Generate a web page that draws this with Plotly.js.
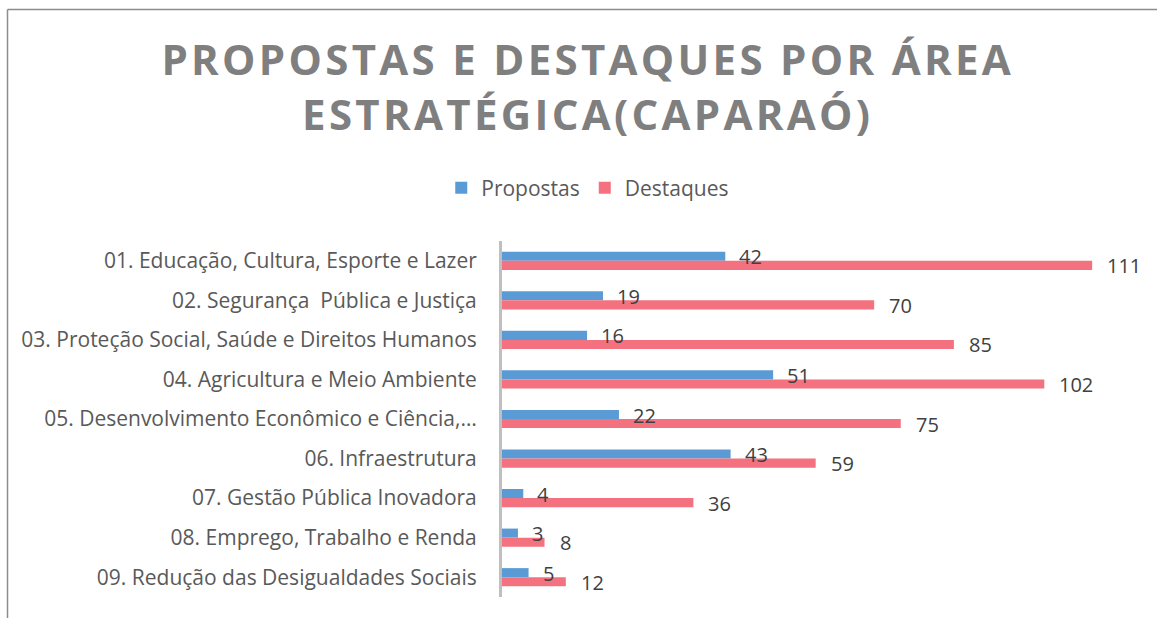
<!DOCTYPE html>
<html>
<head>
<meta charset="utf-8">
<script src="https://cdn.plot.ly/plotly-3.0.1.min.js"></script>
<style>
  html, body { margin: 0; padding: 0; background: #fff; }
  #chart { width: 1157px; height: 618px; }
  .gtitle { letter-spacing: 3.3px; }
</style>
</head>
<body>
<div id="chart"></div>
<script>
const categories = [
  "01. Educação, Cultura, Esporte e Lazer",
  "02. Segurança  Pública e Justiça",
  "03. Proteção Social, Saúde e Direitos Humanos",
  "04. Agricultura e Meio Ambiente",
  "05. Desenvolvimento Econômico e Ciência,…",
  "06. Infraestrutura",
  "07. Gestão Pública Inovadora",
  "08. Emprego, Trabalho e Renda",
  "09. Redução das Desigualdades Sociais"
];
const propostas = [42, 19, 16, 51, 22, 43, 4, 3, 5];
const destaques = [111, 70, 85, 102, 75, 59, 36, 8, 12];

const W = 1157, H = 618;
const M = {l: 502, r: 17, t: 241, b: 21, autoexpand: false};
const pw = W - M.l - M.r, ph = H - M.t - M.b;
const px = v => (v - M.l) / pw;
const py = v => 1 - (v - M.t) / ph;

const blue = '#5b9bd5', red = '#f4727f';

const traces = [
  {type: 'bar', orientation: 'h', name: 'Propostas', y: categories, x: propostas,
   marker: {color: blue}, hoverinfo: 'x'},
  {type: 'bar', orientation: 'h', name: 'Destaques', y: categories, x: destaques,
   marker: {color: red}, hoverinfo: 'x'}
];

const labelFont = {family: 'Open Sans, sans-serif', size: 20, color: '#404040'};
const annotations = [];
categories.forEach((c, i) => {
  annotations.push({x: propostas[i], y: c, xref: 'x', yref: 'y', text: String(propostas[i]),
    showarrow: false, xanchor: 'left', xshift: 12, yshift: 4, font: labelFont});
  annotations.push({x: destaques[i], y: c, xref: 'x', yref: 'y', text: String(destaques[i]),
    showarrow: false, xanchor: 'left', xshift: 13, yshift: -5, font: labelFont});
});

const layout = {
  width: W, height: H,
  margin: M,
  paper_bgcolor: '#fff', plot_bgcolor: '#fff',
  barmode: 'group', bargap: 0.54, bargroupgap: 0,
  title: {
    text: '<b>PROPOSTAS E DESTAQUES POR ÁREA<br>ESTRATÉGICA(CAPARAÓ)</b>',
    font: {family: 'Open Sans, sans-serif', size: 42, color: '#7f7f7f'},
    x: 0.508, xref: 'container', xanchor: 'center',
    y: 1 - 75/618, yref: 'container', yanchor: 'top'
  },
  showlegend: true,
  legend: {
    orientation: 'h', x: 0.508, xref: 'container', xanchor: 'center',
    y: 1 - 188/618, yref: 'container', yanchor: 'middle',
    font: {family: 'Open Sans, sans-serif', size: 21, color: '#595959'},
    traceorder: 'normal', itemwidth: 30
  },
  xaxis: {range: [0, 120], showgrid: false, zeroline: false, showticklabels: false,
    showline: false, fixedrange: true},
  yaxis: {type: 'category', range: [8.5, -0.5], autorange: false, showgrid: false, zeroline: false,
    showline: true, linecolor: '#bfbfbf', linewidth: 3, ticks: '',
    ticklabelstandoff: 18,
    tickfont: {family: 'Open Sans, sans-serif', size: 21, color: '#595959'}},
  annotations: annotations,
  shapes: [
    {type: 'line', xref: 'paper', yref: 'paper', x0: px(7.5), x1: px(1157), y0: py(9.5), y1: py(9.5),
     line: {color: '#8c8c8c', width: 1.5}},
    {type: 'line', xref: 'paper', yref: 'paper', x0: px(7.5), x1: px(7.5), y0: py(9.5), y1: py(618),
     line: {color: '#8c8c8c', width: 1.5}}
  ]
};

Plotly.newPlot('chart', traces, layout, {displayModeBar: false, staticPlot: true});
</script>
</body>
</html>
